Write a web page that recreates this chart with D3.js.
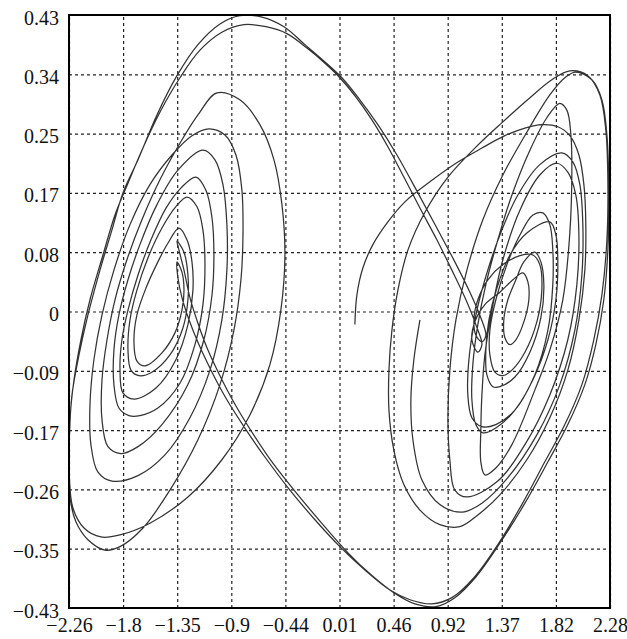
<!DOCTYPE html>
<html><head><meta charset="utf-8">
<script src="https://cdn.jsdelivr.net/npm/d3@7"></script>
<style>
html,body{margin:0;padding:0;background:#fff;}
svg{display:block;}
.tick text{font-family:"Liberation Serif","DejaVu Serif",serif;font-size:20px;fill:#111;}
</style></head>
<body>
<svg id="chart" width="627" height="639"></svg>
<script>
// ---- axis ticks ----
const xTicks = [-2.26, -1.806, -1.352, -0.898, -0.444, 0.01, 0.464, 0.918, 1.372, 1.826, 2.28];
const xTickLabels = ["\u22122.26","\u22121.8","\u22121.35","\u22120.9","\u22120.44","0.01","0.46","0.92","1.37","1.82","2.28"];
const yTicks = [0.43, 0.344, 0.258, 0.172, 0.086, 0, -0.086, -0.172, -0.258, -0.344, -0.43];
const yTickLabels = ["0.43","0.34","0.25","0.17","0.08","0","\u22120.09","\u22120.17","\u22120.26","\u22120.35","\u22120.43"];

// ---- trajectory (x, y), in time order ----
const startAndOuterRight = [
[0.139,-0.019],[0.156,0.024],[0.206,0.063],[0.290,0.097],[0.416,0.130],[0.559,0.159],[0.752,0.186],[0.978,0.214],
[1.205,0.237],[1.398,0.255],[1.566,0.266],[1.708,0.271],[1.842,0.268],[1.943,0.255],[2.019,0.227],[2.061,0.184],
[2.077,0.126],[2.069,0.060],[2.019,-0.012],[1.926,-0.085],[1.775,-0.154],[1.582,-0.215],[1.356,-0.266],[1.171,-0.295],
[1.020,-0.312],[0.852,-0.309],[0.685,-0.288],[0.550,-0.251],[0.466,-0.201],[0.425,-0.143],[0.425,-0.085],[0.450,-0.027],
[0.500,0.031],[0.584,0.089],[0.727,0.144],[0.920,0.195],[1.146,0.237],[1.381,0.275],[1.608,0.310],[1.792,0.336],
[1.943,0.349],[2.094,0.342],[2.195,0.314],[2.245,0.263],[2.262,0.191],[2.254,0.104],[2.212,0.024],[2.144,-0.041],
[2.044,-0.106],[1.901,-0.164],[1.733,-0.218],[1.540,-0.280],[1.339,-0.338],[1.138,-0.386],[0.953,-0.415],[0.785,-0.424],
[0.601,-0.418],[0.433,-0.404],[0.223,-0.375],[0.013,-0.341],[-0.196,-0.302],[-0.406,-0.259],[-0.616,-0.211],[-0.784,-0.169],
[-0.935,-0.128],[-1.060,-0.088],[-1.170,-0.048],[-1.253,-0.012],[-1.312,0.020],[-1.346,0.049],[-1.354,0.072]
];
const leftVisitA = [
[-1.312,0.057],[-1.295,0.031],[-1.312,0.002],[-1.371,-0.031],[-1.480,-0.060],[-1.623,-0.079],[-1.690,-0.072],[-1.715,-0.044],
[-1.690,-0.005],[-1.614,0.034],[-1.514,0.072],[-1.430,0.099],[-1.337,0.121],
[-1.270,0.104],[-1.228,0.072],[-1.220,0.031],[-1.262,-0.019],[-1.363,-0.070],[-1.530,-0.111],[-1.715,-0.127],[-1.807,-0.118],
[-1.832,-0.085],[-1.816,-0.041],[-1.765,0.002],[-1.681,0.053],[-1.572,0.104],[-1.446,0.150],[-1.321,0.179],[-1.195,0.195],
[-1.111,0.176],[-1.060,0.136],[-1.044,0.082],[-1.060,0.024],[-1.128,-0.041],[-1.262,-0.106],[-1.480,-0.164],[-1.681,-0.196],
[-1.824,-0.206],[-1.933,-0.196],[-1.983,-0.157],[-1.983,-0.099],[-1.941,-0.041],[-1.874,0.017],[-1.774,0.075],[-1.648,0.133],
[-1.497,0.191],[-1.329,0.244],[-1.178,0.285],[-1.019,0.317],
[-0.826,0.307],[-0.658,0.271],[-0.540,0.220],[-0.473,0.155],[-0.448,0.082],[-0.482,0.002],[-0.574,-0.077],[-0.742,-0.150],
[-0.977,-0.215],[-1.262,-0.269],[-1.581,-0.307],[-1.832,-0.324],[-1.992,-0.327],[-2.134,-0.314],[-2.227,-0.285],[-2.258,-0.237],
[-2.256,-0.179],[-2.235,-0.121],[-2.176,-0.063],[-2.101,-0.005],[-2.000,0.060],[-1.900,0.118],[-1.807,0.172],[-1.681,0.220],
[-1.522,0.285],[-1.354,0.342],[-1.178,0.387],[-0.993,0.417],[-0.826,0.429],[-0.641,0.427],[-0.456,0.413],[-0.280,0.387],
[-0.112,0.362],[0.030,0.339],[0.181,0.307],[0.332,0.271],[0.492,0.227],[0.668,0.172],[0.827,0.121],[0.978,0.072],
[1.104,0.028],[1.196,-0.009],[1.238,-0.035],[1.205,-0.044],[1.154,-0.034]
];
const rightVisitA = [
[1.138,-0.012],[1.171,0.017],[1.255,0.046],[1.381,0.068],[1.524,0.081],[1.633,0.082],[1.691,0.068],[1.708,0.031],
[1.666,-0.015],[1.566,-0.059],[1.457,-0.085],[1.381,-0.093],[1.314,-0.088],[1.272,-0.063],[1.272,-0.027],[1.322,0.017],
[1.415,0.068],[1.524,0.111],[1.633,0.140],[1.717,0.143],
[1.775,0.126],[1.800,0.089],[1.800,0.039],[1.759,-0.027],[1.649,-0.092],[1.482,-0.143],[1.322,-0.169],[1.213,-0.176],
[1.154,-0.164],[1.121,-0.128],[1.129,-0.077],[1.171,-0.019],[1.238,0.039],[1.339,0.104],[1.457,0.169],[1.608,0.234],
[1.750,0.281],[1.859,0.302],
[1.918,0.292],[1.952,0.256],[1.960,0.205],[1.943,0.114],[1.884,0.017],[1.775,-0.056],[1.649,-0.114],[1.457,-0.193],
[1.322,-0.227],[1.230,-0.237],[1.196,-0.218],[1.196,-0.172],[1.205,-0.121],[1.230,-0.063],[1.289,0.002],[1.381,0.075],
[1.524,0.147],[1.691,0.198],[1.834,0.215],
[1.926,0.202],[1.993,0.169],[2.019,0.111],[2.002,0.039],[1.926,-0.041],[1.775,-0.121],[1.566,-0.193],[1.331,-0.247],
[1.079,-0.269],[0.978,-0.259],[0.936,-0.215],[0.920,-0.157],[0.936,-0.085],[0.987,-0.012],[1.079,0.060],[1.213,0.133],
[1.381,0.198],[1.582,0.260],[1.775,0.314],[1.901,0.339],[1.993,0.347],[2.128,0.336],[2.212,0.307],[2.254,0.256],
[2.270,0.176],[2.262,0.089],[2.228,0.017],[2.161,-0.048],[2.069,-0.106],[1.926,-0.164],[1.759,-0.218],[1.566,-0.278],
[1.356,-0.336],[1.154,-0.385],[0.978,-0.415],[0.819,-0.428],
[0.643,-0.424],[0.475,-0.409],[0.282,-0.383],[0.081,-0.350],[-0.129,-0.309],[-0.339,-0.266],[-0.549,-0.220],[-0.717,-0.177],
[-0.859,-0.137],[-0.985,-0.096],[-1.094,-0.056],[-1.178,-0.017],[-1.245,0.020],[-1.295,0.060],[-1.337,0.089],[-1.354,0.102]
];
const leftVisitB = [
[-1.295,0.086],[-1.262,0.053],[-1.262,0.017],[-1.304,-0.024],[-1.413,-0.063],[-1.564,-0.088],[-1.673,-0.093],[-1.740,-0.085],
[-1.765,-0.056],[-1.748,-0.012],[-1.690,0.031],[-1.597,0.078],[-1.480,0.121],[-1.363,0.152],[-1.270,0.166],
[-1.186,0.152],[-1.136,0.118],[-1.119,0.068],[-1.136,0.010],[-1.203,-0.048],[-1.329,-0.104],[-1.514,-0.140],[-1.665,-0.151],
[-1.757,-0.151],[-1.841,-0.140],[-1.883,-0.106],[-1.883,-0.056],[-1.841,-0.005],[-1.765,0.046],[-1.665,0.097],[-1.522,0.155],
[-1.346,0.205],[-1.136,0.234],
[-1.035,0.220],[-0.968,0.184],[-0.935,0.126],[-0.935,0.060],[-0.977,-0.012],[-1.077,-0.085],[-1.245,-0.154],[-1.455,-0.208],
[-1.681,-0.238],[-1.900,-0.246],[-2.017,-0.233],[-2.076,-0.193],[-2.084,-0.135],[-2.051,-0.070],[-1.983,-0.005],[-1.883,0.060],
[-1.748,0.126],[-1.581,0.184],[-1.396,0.227],[-1.228,0.255],[-1.086,0.265],
[-0.951,0.256],[-0.859,0.227],[-0.809,0.176],[-0.800,0.111],[-0.817,0.046],[-0.876,-0.027],[-0.993,-0.106],[-1.178,-0.186],
[-1.413,-0.259],[-1.639,-0.314],[-1.832,-0.341],[-1.958,-0.346],[-2.101,-0.331],[-2.202,-0.305],[-2.252,-0.269],[-2.258,-0.215],
[-2.252,-0.157],[-2.218,-0.099],[-2.160,-0.041],[-2.084,0.017],[-1.975,0.082],[-1.874,0.140],[-1.782,0.179],[-1.648,0.234],
[-1.497,0.289],[-1.329,0.339],[-1.161,0.379],[-0.977,0.405],[-0.792,0.416],[-0.607,0.413],[-0.431,0.403],[-0.263,0.382],
[-0.112,0.360],[0.013,0.339],[0.148,0.311],[0.282,0.278],[0.416,0.239],[0.550,0.195],[0.685,0.150],[0.827,0.104],
[0.953,0.060],[1.071,0.017],[1.154,-0.019],[1.205,-0.048],[1.171,-0.059],[1.121,-0.041]
];
const rightVisitB = [
[1.146,-0.015],[1.230,0.010],[1.356,0.028],[1.465,0.046],[1.549,0.056],[1.591,0.043],[1.599,0.017],[1.557,-0.015],
[1.490,-0.041],[1.440,-0.048],[1.398,-0.038],[1.389,-0.012],[1.423,0.017],[1.490,0.046],[1.557,0.072],[1.649,0.086],
[1.700,0.072],[1.725,0.039],[1.700,-0.009],[1.608,-0.059],[1.482,-0.095],[1.356,-0.109],[1.297,-0.109],[1.247,-0.092],
[1.238,-0.056],[1.264,-0.012],[1.331,0.034],[1.440,0.082],[1.582,0.114],[1.775,0.130],
[1.826,0.111],[1.842,0.072],[1.826,0.017],[1.759,-0.041],[1.633,-0.099],[1.482,-0.143],[1.322,-0.164],[1.205,-0.167],
[1.121,-0.154],[1.087,-0.121],[1.096,-0.070],[1.146,-0.012],[1.230,0.046],[1.356,0.111],[1.507,0.169],[1.691,0.213],
[1.876,0.230],
[1.968,0.217],[2.027,0.184],[2.052,0.126],[2.044,0.053],[1.985,-0.027],[1.859,-0.106],[1.666,-0.179],[1.423,-0.241],
[1.205,-0.278],[1.037,-0.291],[0.852,-0.280],[0.701,-0.244],[0.626,-0.186],[0.609,-0.128],[0.634,-0.070],[0.685,-0.012]
];

const trajectory = [].concat(startAndOuterRight, leftVisitA, rightVisitA, leftVisitB, rightVisitB);

// ---- layout ----
const margin = {left: 69, top: 15, right: 17, bottom: 31};
const W = 627, H = 639;
const w = W - margin.left - margin.right;   // 541
const h = H - margin.top - margin.bottom;   // 593

const svg = d3.select("#chart");
const g = svg.append("g").attr("transform", `translate(${margin.left},${margin.top})`);

const x = d3.scaleLinear().domain([-2.26, 2.28]).range([0, w]);
const y = d3.scaleLinear().domain([-0.43, 0.43]).range([h, 0]);

// grid + labels
const gx = g.append("g").attr("transform", `translate(0,${h})`)
  .call(d3.axisBottom(x).tickValues(xTicks).tickFormat((d,i)=>xTickLabels[i]).tickSize(-h).tickPadding(10));
const gy = g.append("g")
  .call(d3.axisLeft(y).tickValues(yTicks).tickFormat((d,i)=>yTickLabels[i]).tickSize(-w).tickPadding(10));
[gx, gy].forEach(a => {
  a.select(".domain").remove();
  a.selectAll(".tick line").attr("stroke", "#222").attr("stroke-width", 1.2).attr("stroke-dasharray", "3,3");
});
gy.selectAll(".tick text").attr("dy", "0.45em");

// clip
svg.append("defs").append("clipPath").attr("id", "clip")
  .append("rect").attr("x", 0).attr("y", 0).attr("width", w).attr("height", h);

const line = d3.line().x(d => x(d[0])).y(d => y(d[1])).curve(d3.curveCatmullRom.alpha(0.5));
g.append("path")
  .attr("clip-path", "url(#clip)")
  .attr("d", line(trajectory))
  .attr("fill", "none")
  .attr("stroke", "#333")
  .attr("stroke-width", 1.25)
  .attr("stroke-linejoin", "round");

// frame
g.append("rect").attr("x", 0).attr("y", 0).attr("width", w).attr("height", h)
  .attr("fill", "none").attr("stroke", "#000").attr("stroke-width", 2);
</script>
</body></html>
